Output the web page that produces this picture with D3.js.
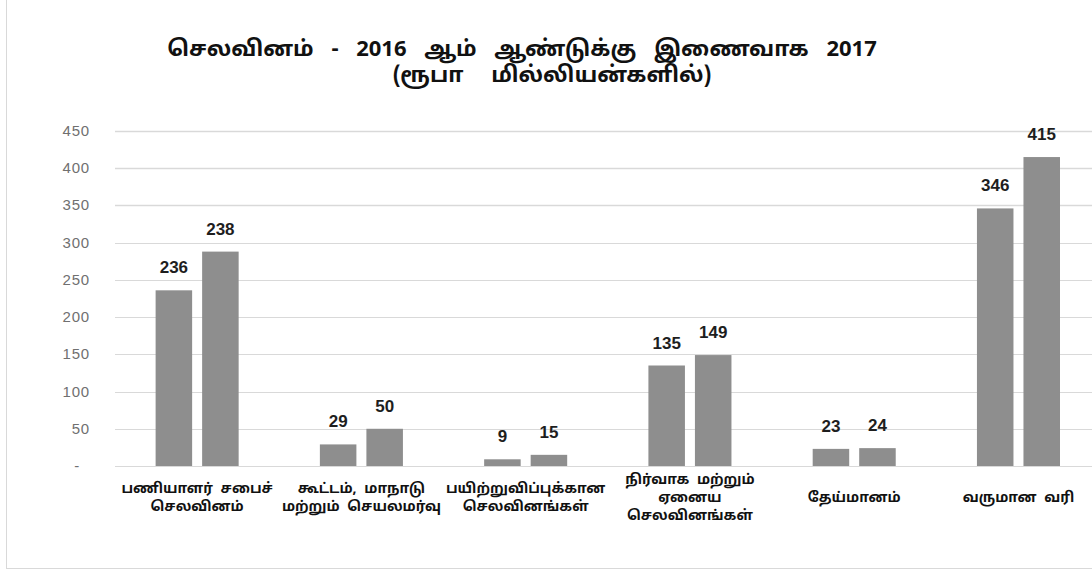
<!DOCTYPE html>
<html>
<head>
<meta charset="utf-8">
<script src="https://cdn.jsdelivr.net/npm/d3@7"></script>
<style>
	body{margin:0;background:#fff}
	svg{display:block}
</style>
</head>
<body>
<div id="chart"></div>
<script>
const categories=[
	['பணியாளர் சபைச்','செலவினம்'],
	['கூட்டம், மாநாடு','மற்றும் செயலமர்வு'],
	['பயிற்றுவிப்புக்கான','செலவினங்கள்'],
	['நிர்வாக மற்றும்','ஏனைய','செலவினங்கள்'],
	['தேய்மானம்'],
	['வருமான வரி']
]
const years=['2016','2017']
const values2016=[236,29,9,135,23,346]
const values2017=[288,50,15,149,24,415]
const labels2016=['236','29','9','135','23','346']
const labels2017=['238','50','15','149','24','415']
const yTicks=[0,50,100,150,200,250,300,350,400,450]
const yTickLabels=['-','50','100','150','200','250','300','350','400','450']
const titleLines=['செலவினம் - 2016 ஆம் ஆண்டுக்கு இணைவாக 2017','(ரூபா மில்லியன்களில்)']

const W=1092,H=572
const plot={left:115,right:1100.6,top:131,bottom:466}
const tamil="'Noto Sans Tamil','Latha','Lohit Tamil','Noto Serif Tamil',sans-serif"

const svg=d3.select('#chart').append('svg')
	.attr('width',W)
	.attr('height',H)

svg.append('rect')
	.attr('width',W).attr('height',H)
	.attr('fill','#fff')

// chart frame (right and top edges are cut off in the picture)
svg.append('rect')
	.attr('x',6.5).attr('y',-10)
	.attr('width',1100).attr('height',578.5)
	.attr('fill','none')
	.attr('stroke','#d9d9d9')

const keys=categories.map((d,i)=>i)

const x0=d3.scaleBand()
	.domain(keys)
	.range([plot.left,plot.right])

const x1=d3.scaleBand()
	.domain(years)
	.range([0,x0.bandwidth()])
	.paddingInner(0.215)
	.paddingOuter(0.873)

const y=d3.scaleLinear()
	.domain([0,450])
	.range([plot.bottom,plot.top])

// gridlines
svg.append('g')
	.selectAll('line')
	.data(yTicks)
	.join('line')
	.attr('x1',plot.left).attr('x2',W+20)
	.attr('y1',d=>Math.round(y(d))+0.5)
	.attr('y2',d=>Math.round(y(d))+0.5)
	.attr('stroke','#d9d9d9')
	.attr('stroke-width',d=>d>=350?1.6:1)

// y tick labels
svg.append('g')
	.selectAll('text')
	.data(yTicks)
	.join('text')
	.attr('x',d=>d===0?80:90)
	.attr('y',d=>y(d)+5)
	.attr('text-anchor','end')
	.attr('font-family','Liberation Sans, Arial, sans-serif')
	.attr('font-size',15)
	.attr('letter-spacing',0.8)
	.attr('fill','#707070')
	.text((d,i)=>yTickLabels[i])

const rows=keys.map(i=>({i,v:[values2016[i],values2017[i]],l:[labels2016[i],labels2017[i]]}))

const groups=svg.append('g')
	.selectAll('g')
	.data(rows)
	.join('g')
	.attr('transform',d=>`translate(${x0(d.i)},0)`)

groups.selectAll('rect')
	.data(d=>years.map((k,j)=>({k,v:d.v[j]})))
	.join('rect')
	.attr('x',d=>x1(d.k))
	.attr('y',d=>y(d.v))
	.attr('width',x1.bandwidth())
	.attr('height',d=>y(0)-y(d.v))
	.attr('fill','#8e8e8e')

groups.selectAll('text.val')
	.data(d=>years.map((k,j)=>({k,v:d.v[j],l:d.l[j]})))
	.join('text')
	.attr('class','val')
	.attr('x',d=>x1(d.k)+x1.bandwidth()/2)
	.attr('y',d=>y(d.v)-17)
	.attr('text-anchor','middle')
	.attr('font-family','Liberation Sans, Arial, sans-serif')
	.attr('font-weight','bold')
	.attr('font-size',17)
	.attr('fill','#1e1e1e')
	.text(d=>d.l)

// category labels, centred vertically round one line
const lineH=18
groups.append('text')
	.attr('text-anchor','middle')
	.attr('font-family',tamil)
	.attr('font-weight','bold')
	.attr('font-size',14)
	.attr('word-spacing',4)
	.attr('fill','#111')
	.selectAll('tspan')
	.data(d=>categories[d.i].map((t,j,a)=>({t,j,n:a.length})))
	.join('tspan')
	.attr('x',x0.bandwidth()/2)
	.attr('y',d=>502+(d.j-(d.n-1)/2)*lineH)
	.text(d=>d.t)

// title
svg.append('g')
	.selectAll('text')
	.data(titleLines)
	.join('text')
	.attr('x',(d,i)=>i===0?522:552)
	.attr('y',(d,i)=>i===0?56:82)
	.attr('text-anchor','middle')
	.attr('font-family',tamil)
	.attr('font-weight','bold')
	.attr('font-size',22)
	.attr('word-spacing',(d,i)=>i===0?12:22)
	.attr('fill','#111')
	.text(d=>d)
</script>
</body>
</html>
